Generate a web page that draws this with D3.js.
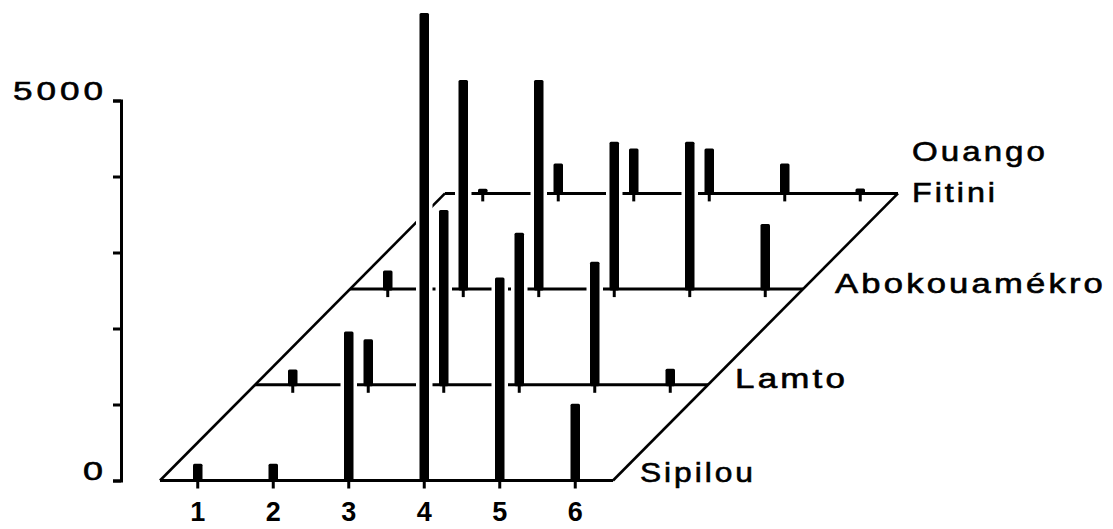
<!DOCTYPE html>
<html>
<head>
<meta charset="utf-8">
<script src="https://cdn.jsdelivr.net/npm/d3@7"></script>
<style>
  html, body { margin: 0; padding: 0; background: #fff; }
  svg { display: block; }
  text { font-family: "Liberation Sans", Arial, sans-serif; fill: #000; }
</style>
</head>
<body>
<svg id="chart" width="1113" height="529"></svg>
<script>
// ---- data ----
const categories = [1, 2, 3, 4, 5, 6];
const sites = ["Sipilou", "Lamto", "Abokouamékro", "Ouango Fitini"];
const sipilou      = [220, 220, 1960, 6150, 2670, 1010];
const lamto        = [200, 600, 2300, 2000, 1620, 210];
const abokouamekro = [245, 2750, 2750, 1940, 1940, 855];
const ouangoFitini = [60, 395, 590, 590, 395, 65];
const yTicks = [0, 1000, 2000, 3000, 4000, 5000];
const yTickLabels = ["0", "", "", "", "", "5000"];

const seriesValues = [sipilou, lamto, abokouamekro, ouangoFitini];

// ---- layout ----
const svg = d3.select("#chart");
const base0 = 480.5;      // baseline of front row
const depthX = 95;        // shift per row (x)
const depthY = 95.7;      // shift per row (y)
const floorLeft = 160, floorRight = 613;
const barW = 9.5;

const x = d3.scaleBand().domain(categories).range([floorLeft, floorRight]).padding(0);
const y = d3.scaleLinear().domain([0, 5000]).range([base0, 100.5]);
const h = v => base0 - y(v);

// place a text so that its width equals targetW (horizontal stretch)
function fitText(parent, str, px, py, targetW, anchor, opts) {
  const t = parent.append("text")
    .attr("x", 0).attr("y", 0)
    .style("font-size", opts.size + "px")
    .style("font-weight", opts.weight || "normal")
    .style("letter-spacing", (opts.ls || 0) + "px")
    .attr("stroke", opts.stroke ? "#000" : null)
    .attr("stroke-width", opts.stroke || null)
    .text(str);
  const bb = t.node().getBBox();
  const w = bb.width - (opts.ls || 0);
  const sx = targetW / w;
  const left = anchor === "end" ? px - targetW : px;
  t.attr("transform", `translate(${left},${py}) scale(${sx},1)`);
  return t;
}

// Y axis
const yAxis = d3.axisLeft(y).tickValues(yTicks).tickSize(8).tickSizeOuter(8)
  .tickFormat(() => "");
const gy = svg.append("g").attr("transform", "translate(121,0)").call(yAxis);
gy.selectAll("path, line").attr("stroke", "#000").attr("stroke-width", 3);
gy.selectAll("text").remove();
const yLab = svg.append("g");
yTicks.forEach((v, i) => {
  const s = yTickLabels[i];
  if (!s) return;
  fitText(yLab, s, 103, y(v) - 1, s.length > 1 ? 90 : 20, "end",
    { size: 26.5, ls: 3, stroke: 0.6 });
});

// Floor frame (side edges)
const rowOffset = k => ({ dx: k * depthX, dy: -k * depthY });
const last = sites.length - 1;
const frame = svg.append("g").attr("stroke", "#000").attr("stroke-width", 2.6).attr("fill", "none");
frame.append("line")
  .attr("x1", floorLeft).attr("y1", base0)
  .attr("x2", floorLeft + rowOffset(last).dx).attr("y2", base0 + rowOffset(last).dy);
frame.append("line")
  .attr("x1", floorRight).attr("y1", base0)
  .attr("x2", floorRight + rowOffset(last).dx).attr("y2", base0 + rowOffset(last).dy);

// Rows drawn from back to front
for (let k = last; k >= 0; k--) {
  const off = rowOffset(k);
  const by = base0 + off.dy;
  const vals = seriesValues[k];
  const g = svg.append("g").attr("class", "row-" + k);
  const cx = c => x(c) + x.bandwidth() / 2 + off.dx;

  // white knock-out halo around bars (hides lines behind)
  g.selectAll("rect.halo").data(categories).join("rect")
    .attr("class", "halo")
    .attr("x", c => cx(c) - barW / 2 - 3.5)
    .attr("width", barW + 7)
    .attr("y", (c, i) => by - h(vals[i]) - 3)
    .attr("height", (c, i) => Math.max(0, h(vals[i]) + 3 - 2))
    .attr("fill", "#fff");

  // row baseline
  g.append("line")
    .attr("x1", floorLeft + off.dx).attr("x2", floorRight + off.dx)
    .attr("y1", by).attr("y2", by)
    .attr("stroke", "#000").attr("stroke-width", 3);

  // small ticks below the baseline
  g.selectAll("line.tk").data(categories).join("line")
    .attr("class", "tk")
    .attr("x1", cx).attr("x2", cx)
    .attr("y1", by).attr("y2", by + 8)
    .attr("stroke", "#000").attr("stroke-width", 3);

  // bars
  g.selectAll("rect.bar").data(categories).join("rect")
    .attr("class", "bar")
    .attr("x", c => cx(c) - barW / 2)
    .attr("width", barW)
    .attr("y", (c, i) => by - h(vals[i]))
    .attr("height", (c, i) => h(vals[i]) + 1.5)
    .attr("rx", 1.5)
    .attr("fill", "#000");
}

// X category labels
svg.append("g").selectAll("text").data(categories).join("text")
  .attr("x", c => x(c) + x.bandwidth() / 2)
  .attr("y", 521)
  .attr("text-anchor", "middle")
  .style("font-size", "27px")
  .style("font-weight", "bold")
  .text(c => c);

// Row labels
const labelSpecs = [
  { lines: ["Sipilou"], x: 640, ys: [482], w: [113] },
  { lines: ["Lamto"], x: 735, ys: [388], w: [110] },
  { lines: ["Abokouamékro"], x: 835, ys: [293], w: [268] },
  { lines: ["Ouango", "Fitini"], x: 912, ys: [161, 201.5], w: [133, 83] }
];
const rl = svg.append("g");
labelSpecs.forEach(s => {
  s.lines.forEach((ln, j) => {
    fitText(rl, ln, s.x, s.ys[j], s.w[j], "start", { size: 27, ls: 2.5, stroke: 0.6 });
  });
});
</script>
</body>
</html>
